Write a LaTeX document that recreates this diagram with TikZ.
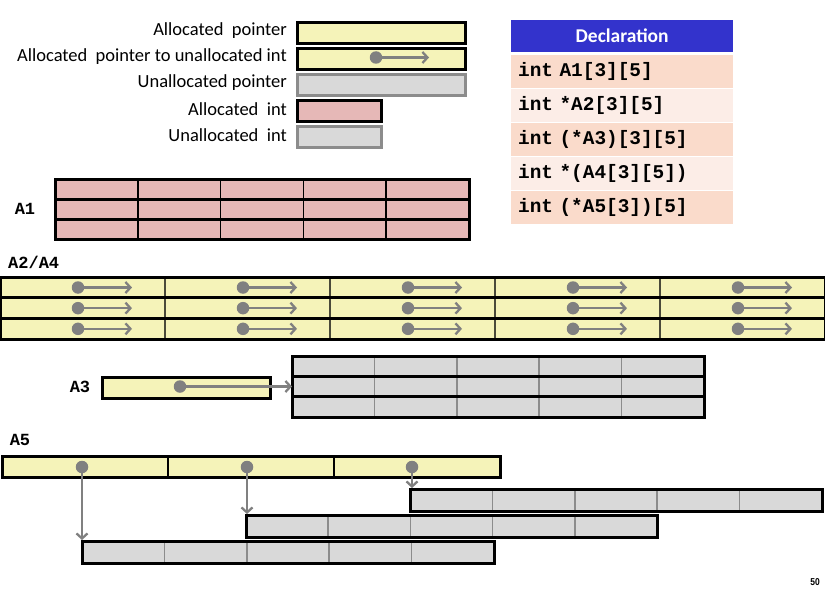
\documentclass[tikz,border=0pt]{standalone}
\usepackage{fontspec}
\setmainfont{Carlito}
\newfontfamily\codefont{Liberation Mono}
\newfontfamily\numfont{Liberation Sans}
\usetikzlibrary{arrows.meta}
\definecolor{ptrY}{HTML}{F5F3B9}
\definecolor{intR}{HTML}{E6B8B7}
\definecolor{unG}{HTML}{D9D9D9}
\definecolor{unB}{HTML}{8C8C8C}
\definecolor{arrG}{HTML}{808080}
\definecolor{hdrB}{HTML}{3333CC}
\definecolor{rowA}{HTML}{FADBCB}
\definecolor{rowB}{HTML}{FCEDE7}
\definecolor{divY}{HTML}{4A4A3A}
\newcommand\mygrid[8]{%
  \fill[#7] (#1,#2) rectangle ({#1+#3*#4},{#2+#5*#6});
  \foreach \i in {1,...,\numexpr#3-1\relax}{\draw[#8,line width=1.6pt] ({#1+\i*#4},#2) -- ({#1+\i*#4},{#2+#5*#6});}
  \ifnum#5>1 \foreach \j in {1,...,\numexpr#5-1\relax}{\draw[black,line width=3pt] (#1,{#2+\j*#6}) -- ({#1+#3*#4},{#2+\j*#6});}\fi
  \draw[black,line width=3pt] (#1,#2) rectangle ({#1+#3*#4},{#2+#5*#6});
}
\tikzset{
  lbl/.style={anchor=east,inner sep=0pt,font=\fontsize{18.5}{20}\selectfont},
  alloc/.style={draw=black,line width=2.6pt,anchor=north west,inner sep=0pt},
  unalloc/.style={draw=unB,line width=2.6pt,anchor=north west,inner sep=0pt},
  arrlbl/.style={inner sep=0pt,font=\codefont\bfseries\fontsize{17}{19}\selectfont},
  dot/.style={circle,fill=arrG,inner sep=0pt,minimum size=12.5pt},
  ptrarrow/.style={draw=arrG,line width=2.5pt,-{Straight Barb[length=5pt,width=11pt,line width=2.3pt]}},
  decl/.style={anchor=north west,minimum height=33pt,text width=208pt,inner xsep=7pt,inner ysep=0pt,align=left,font=\codefont\bfseries\fontsize{19.4}{21}\selectfont},
}
\begin{document}
\begin{tikzpicture}[x=1pt,y=-1pt]
\useasboundingbox (0,0) rectangle (825,594);
% legend
\node[lbl] (t1) at (287,31) {Allocated\ \ pointer};
\node[alloc,fill=ptrY,minimum width=168pt,minimum height=21pt] (b1) at (296,21) {};
\node[lbl] (t2) at (287,57) {Allocated\ \ pointer to unallocated int};
\node[alloc,fill=ptrY,minimum width=168pt,minimum height=21pt] (b2) at (296,47) {};
\node[dot] (b2d) at (376,57.5) {};
\coordinate (b2e) at (429,57.5);
\draw[ptrarrow] (b2d.center) -- (b2e);
\node[lbl] (t3) at (287,83) {Unallocated pointer};
\node[unalloc,fill=unG,minimum width=168pt,minimum height=21pt] (b3) at (296,73) {};
\node[lbl] (t4) at (287,109) {Allocated\ \ int};
\node[alloc,fill=intR,minimum width=84pt,minimum height=21pt] (b4) at (296,99) {};
\node[lbl] (t5) at (287,135) {Unallocated\ \ int};
\node[unalloc,fill=unG,minimum width=84pt,minimum height=21pt] (b5) at (296,125) {};
% declaration table
\node[anchor=north west,fill=hdrB,minimum width=222pt,minimum height=32pt,inner sep=0pt,text=white,font=\bfseries\fontsize{19.5}{21}\selectfont] (hd) at (511,20) {Declaration};
\node[decl,fill=rowA] (r1) at (511,55) {int A1[3][5]};
\node[decl,fill=rowB] (r2) at (511,89) {int *A2[3][5]};
\node[decl,fill=rowA] (r3) at (511,123) {int (*A3)[3][5]};
\node[decl,fill=rowB] (r4) at (511,157) {int *(A4[3][5])};
\node[decl,fill=rowA] (r5) at (511,191) {int (*A5[3])[5]};
% A1
\node[arrlbl] (a1l) at (25,209) {A1};
\mygrid{55}{179}{5}{82.8}{3}{20.33}{intR}{black}
% A2/A4
\node[arrlbl,anchor=west] (a2l) at (8,262) {A2/A4};
\mygrid{0}{277}{5}{165}{3}{20.67}{ptrY}{divY}
\foreach \c in {0,...,4}{
  \foreach \r in {0,1,2}{
    \node[dot] (p\c\r) at ({\c*165+78},{287.5+\r*20.67}) {};
    \coordinate (q\c\r) at ({\c*165+132},{287.5+\r*20.67});
    \draw[ptrarrow] (p\c\r.center) -- (q\c\r);
  }
}
% A3
\node[arrlbl] (a3l) at (80,386.5) {A3};
\node[alloc,fill=ptrY,minimum width=168pt,minimum height=21pt] (a3b) at (101,376) {};
\mygrid{292}{356}{5}{82.4}{3}{20.4}{unG}{unB}
\node[dot] (a3d) at (180,386.5) {};
\coordinate (a3t) at (292,386.5);
\draw[ptrarrow] (a3d.center) -- (a3t);
% A5
\node[arrlbl] (a5l) at (20,440) {A5};
\mygrid{2}{456}{3}{166}{1}{21}{ptrY}{black}
\mygrid{410}{489}{5}{82.4}{1}{22}{unG}{unB}
\mygrid{246}{515}{5}{82.2}{1}{22}{unG}{unB}
\mygrid{82}{541}{5}{82.4}{1}{22}{unG}{unB}
\node[dot] (d1) at (82,467) {};
\node[dot] (d2) at (247,467) {};
\node[dot] (d3) at (412,467) {};
\coordinate (e1) at (82,540);
\coordinate (e2) at (247,514);
\coordinate (e3) at (412,488);
\draw[ptrarrow] (d1.center) -- (e1);
\draw[ptrarrow] (d2.center) -- (e2);
\draw[ptrarrow] (d3.center) -- (e3);
% page number
\node[inner sep=0pt,font=\numfont\bfseries\fontsize{10}{12}\selectfont,xscale=0.85] (pg) at (815,582) {50};
\end{tikzpicture}
\end{document}
